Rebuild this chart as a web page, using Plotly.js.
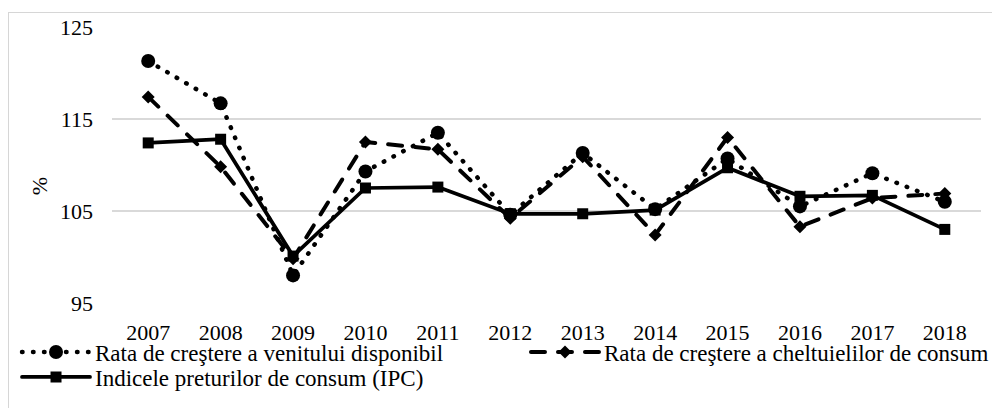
<!DOCTYPE html>
<html>
<head>
<meta charset="utf-8">
<script src="https://cdn.plot.ly/plotly-3.0.1.min.js"></script>
<style>
  html, body { margin: 0; padding: 0; background: #fff; overflow: hidden; }
  #wrap { position: relative; width: 992px; height: 408px; }
  #chart { position: absolute; left: 0; top: 0; width: 992px; height: 408px; }
  #frame { position: absolute; left: 8px; top: 12px; width: 1200px; height: 600px;
           border-left: 1px solid #d6d6d6; border-top: 1px solid #d6d6d6; pointer-events: none; }
  #ytitle { position: absolute; left: 40px; top: 186px; z-index: 5;
            font-family: 'Liberation Serif'; font-size: 22px; color: #000; line-height: 1;
            white-space: nowrap; transform: translate(-50%, -50%) rotate(-90deg); }
  .js-line { stroke-linecap: round; stroke-linejoin: round; }
</style>
</head>
<body>
<div id="wrap">
  <div id="ytitle">%</div>
  <div id="chart"></div>
  <div id="frame"></div>
</div>
<script>
const years = ['2007','2008','2009','2010','2011','2012','2013','2014','2015','2016','2017','2018'];
const venit = [121.3, 116.7, 98.0, 109.3, 113.5, 104.6, 111.3, 105.2, 110.7, 105.5, 109.1, 106.0];
const cheltuieli = [117.4, 109.8, 99.8, 112.5, 111.7, 104.2, 110.9, 102.4, 113.0, 103.3, 106.4, 106.9];
const ipc = [112.4, 112.8, 100.1, 107.5, 107.6, 104.7, 104.7, 105.1, 109.7, 106.6, 106.7, 103.0];

const names = [
  'Rata de creştere a venitului disponibil',
  'Rata de creştere a cheltuielilor de consum',
  'Indicele preturilor de consum (IPC)'
];

const FONT = 'Liberation Serif';
function fnt(size) { return { family: FONT, size: size, color: '#000' }; }

const traces = [
  {
    x: years, y: venit, name: names[0], type: 'scatter', mode: 'lines+markers',
    line: { color: '#000', width: 4.5, dash: '0.5px,10.5px' },
    marker: { symbol: 'circle', size: 14, color: '#000' },
    legend: 'legend'
  },
  {
    x: years, y: cheltuieli, name: names[1], type: 'scatter', mode: 'lines+markers',
    line: { color: '#000', width: 4, dash: '14px,13px' },
    marker: { symbol: 'diamond', size: 10, color: '#000' },
    legend: 'legend2'
  },
  {
    x: years, y: ipc, name: names[2], type: 'scatter', mode: 'lines+markers',
    line: { color: '#000', width: 3.75 },
    marker: { symbol: 'square', size: 11, color: '#000' },
    legend: 'legend3'
  }
];

function leg(x, y) {
  return {
    orientation: 'h', x: x, y: y, xanchor: 'left', yanchor: 'middle',
    itemwidth: 68, font: fnt(23),
    bgcolor: 'rgba(0,0,0,0)', borderwidth: 0,
    itemclick: false, itemdoubleclick: false
  };
}

const layout = {
  width: 992, height: 408,
  margin: { l: 112, r: 11, t: 27, b: 105, autoexpand: false },
  paper_bgcolor: 'rgba(0,0,0,0)',
  plot_bgcolor: '#fff',
  font: fnt(22),
  showlegend: true,
  xaxis: {
    type: 'category',
    range: [-0.5, 11.5],
    showgrid: false, zeroline: false, showline: false,
    ticks: '', ticklabelstandoff: 14,
    tickfont: fnt(22),
    fixedrange: true
  },
  yaxis: {
    range: [95, 125],
    tickvals: [95, 105, 115, 125],
    ticktext: ['95', '105', '115', '125'],
    showgrid: true, gridcolor: '#d9d9d9', gridwidth: 1.5,
    zeroline: false, showline: false, ticks: '',
    ticklabelstandoff: 18,
    tickfont: fnt(22),
    fixedrange: true
  },
  legend: leg(-0.1093, -0.1775),
  legend2: leg(0.4764, -0.1775),
  legend3: leg(-0.1093, -0.268)
};

Plotly.newPlot('chart', traces, layout, { displayModeBar: false, staticPlot: true });
</script>
</body>
</html>
